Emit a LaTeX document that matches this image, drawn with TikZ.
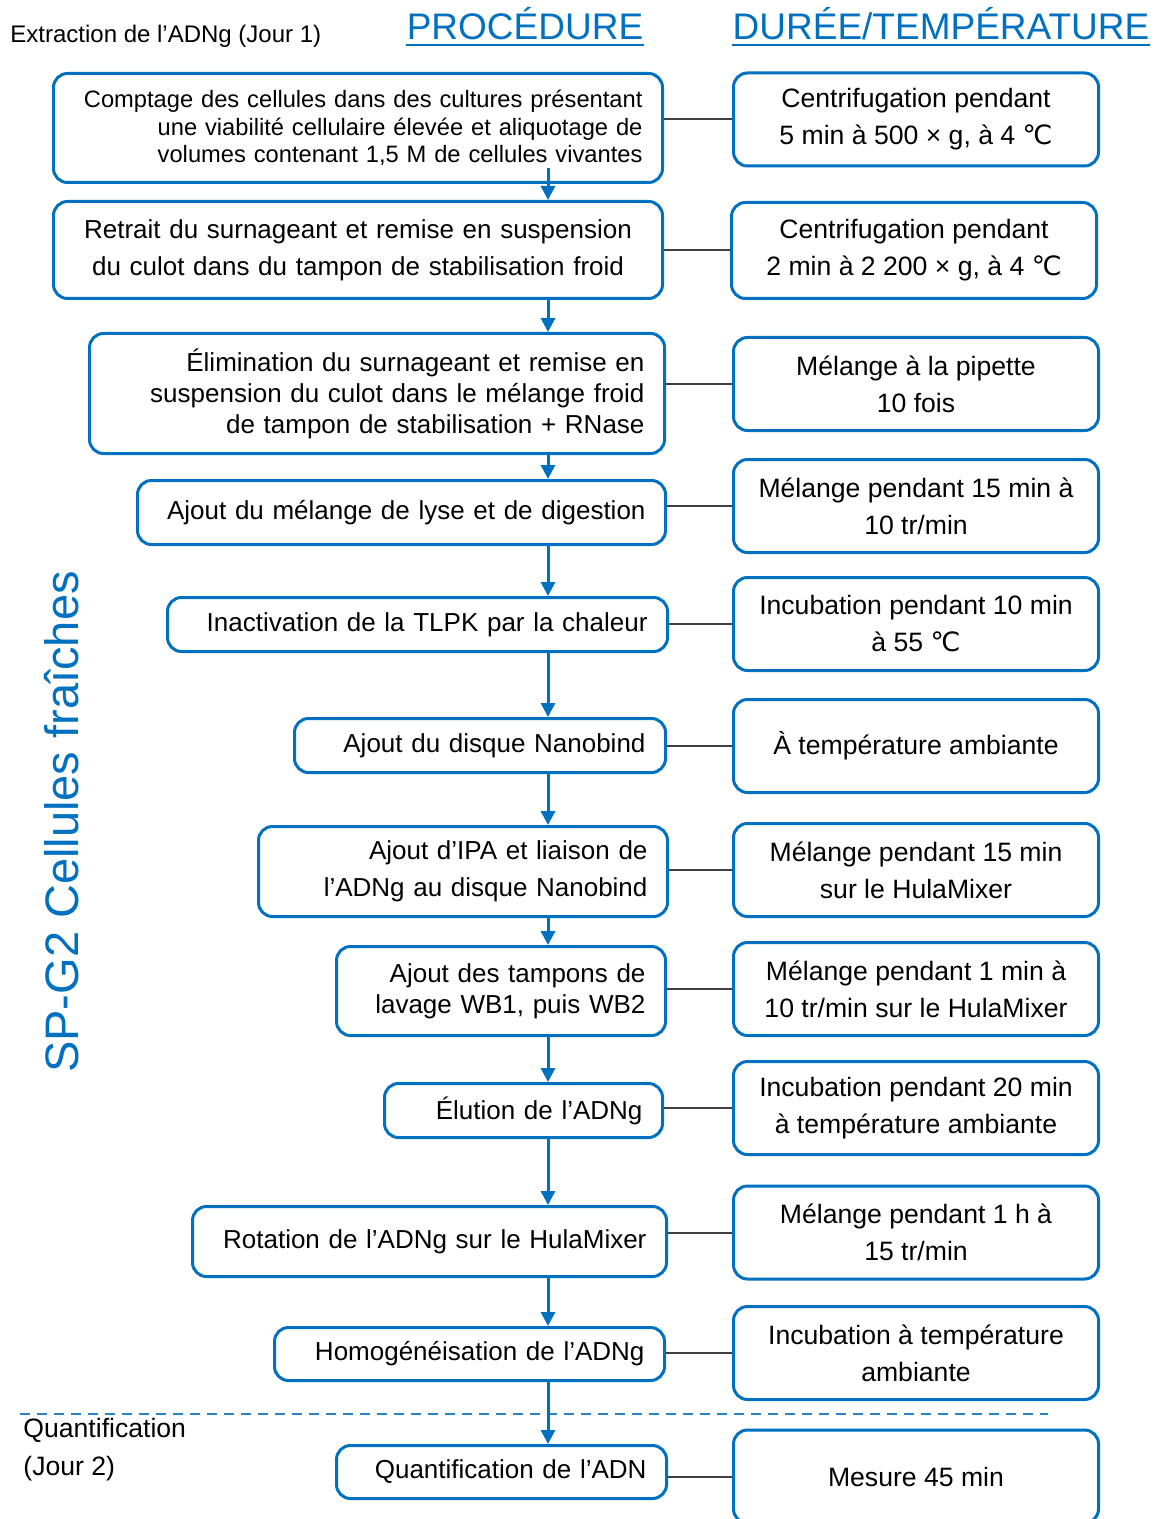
\documentclass[tikz,border=0pt]{standalone}
\usepackage{fontspec}
\setmainfont{Liberation Sans}
\newfontfamily\symfont{DejaVu Sans}
\usetikzlibrary{arrows.meta, positioning, calc}
\definecolor{procblue}{RGB}{0,112,192}
\definecolor{linkgray}{RGB}{64,64,64}
\newcommand{\degC}{{\symfont ℃}}

\begin{document}
\begin{tikzpicture}[
    x=0.5pt, y=-0.5pt,
    >={Triangle[width=7pt,length=7pt]},
    box/.style={draw=procblue, line width=1.5pt, rounded corners=7pt, inner xsep=10pt, inner ysep=3pt},
    procbox/.style={box, anchor=east, align=right, font=\fontsize{13}{18.5}\selectfont},
    timebox/.style={box, minimum width=182.5pt, minimum height=46.5pt, align=center, font=\fontsize{13.3}{18.5}\selectfont},
    heading/.style={text=procblue, inner sep=0pt, font=\fontsize{18.5}{22}\selectfont},
    flow/.style={->, line width=1.5pt, draw=procblue},
    link/.style={draw=linkgray, line width=1pt}
]
\useasboundingbox (0,0) rectangle (1155,1519);

% Headings
\node[anchor=base west, inner sep=0pt, font=\fontsize{12}{14}\selectfont] (day1) at (10,43) {Extraction de l’ADNg (Jour 1)};
\node[heading, anchor=base] (proctitle) at (525,40) {PROCÉDURE};
\node[heading, anchor=base] (timetitle) at (941,40) {DURÉE/TEMPÉRATURE};
\draw[procblue, line width=1.2pt] ([yshift=-2.5pt]proctitle.base west) -- ([yshift=-2.5pt]proctitle.base east);
\draw[procblue, line width=1.2pt] ([yshift=-2.5pt]timetitle.base west) -- ([yshift=-2.5pt]timetitle.base east);

\node[text=procblue, rotate=90, font=\fontsize{23.5}{28}\selectfont] (sample) at (62,822) {SP-G2 Cellules fraîches};

% Procedure steps (left)
\node[procbox, text width=284.5pt, minimum height=54.5pt, font=\fontsize{11.85}{13.75}\selectfont] (comptage) at (664,128) {
    Comptage des cellules dans des cultures présentant\\
    une viabilité cellulaire élevée et aliquotage de\\
    volumes contenant 1,5 M de cellules vivantes
};
\node[procbox, text width=284.5pt, minimum height=48.5pt, align=center] (retrait) at (664,250) {
    Retrait du surnageant et remise en suspension\\
    du culot dans du tampon de stabilisation froid
};
\node[procbox, text width=267.5pt, minimum height=60pt, font=\fontsize{13}{15.5}\selectfont] (elimination) at (666,393.5) {
    Élimination du surnageant et remise en\\
    suspension du culot dans le mélange froid\\
    de tampon de stabilisation + RNase
};
\node[procbox, text width=244pt, minimum height=32pt] (lyse) at (667,512.5) {Ajout du mélange de lyse et de digestion};
\node[procbox, text width=230pt, minimum height=27pt] (inactivation) at (669,624.5) {Inactivation de la TLPK par la chaleur};
\node[procbox, text width=165.5pt, minimum height=27pt] (disque) at (667,745.5) {Ajout du disque Nanobind};
\node[procbox, text width=184.5pt, minimum height=45pt] (ipa) at (669,871.5) {
    Ajout d’IPA et liaison de\\
    l’ADNg au disque Nanobind
};
\node[procbox, text width=144.5pt, minimum height=44.5pt, font=\fontsize{13}{15.5}\selectfont] (lavage) at (667,991) {
    Ajout des tampons de\\
    lavage WB1, puis WB2
};
\node[procbox, text width=119pt, minimum height=27pt] (elution) at (664,1110.5) {Élution de l’ADNg};
\node[procbox, text width=217pt, minimum height=35pt] (rotation) at (668,1241.5) {Rotation de l’ADNg sur le HulaMixer};
\node[procbox, text width=175pt, minimum height=26.5pt] (homog) at (666,1354) {Homogénéisation de l’ADNg};
\node[procbox, text width=145pt, minimum height=26.5pt] (quantif) at (668,1472) {Quantification de l’ADN};

% Duration / temperature (right)
\node[timebox] (centri1) at (916,119.5) {Centrifugation pendant\\ 5 min à 500 × g, à 4 \degC};
\node[timebox, minimum height=48pt] (centri2) at (914,250.5) {Centrifugation pendant\\ 2 min à 2 200 × g, à 4 \degC};
\node[timebox] (pipette) at (916,384) {Mélange à la pipette\\ 10 fois};
\node[timebox] (melange1) at (916,506) {Mélange pendant 15 min à\\ 10 tr/min};
\node[timebox] (incub1) at (916,624) {Incubation pendant 10 min\\ à 55 \degC};
\node[timebox] (ambiante) at (916,746) {À température ambiante};
\node[timebox] (melange2) at (916,870) {Mélange pendant 15 min\\ sur le HulaMixer};
\node[timebox] (melange3) at (916,989) {Mélange pendant 1 min à\\ 10 tr/min sur le HulaMixer};
\node[timebox] (incub2) at (916,1108) {Incubation pendant 20 min\\ à température ambiante};
\node[timebox] (melange4) at (916,1232.5) {Mélange pendant 1 h à\\ 15 tr/min};
\node[timebox] (incub3) at (916,1353) {Incubation à température\\ ambiante};
\node[timebox] (mesure) at (916,1476.5) {Mesure 45 min};

% Day separator
\coordinate (sepL) at (20,1414);
\coordinate (sepR) at (1048,1414);
\draw[procblue!85, line width=1pt, dash pattern=on 5pt off 3.5pt] (sepL) -- (sepR);
\node[anchor=west, inner sep=0pt, align=left, font=\fontsize{13.3}{19}\selectfont] (day2) at (23,1450) {Quantification\\(Jour 2)};

% Flow arrows
\coordinate (spine) at (548,0);
\draw[flow] ([yshift=8pt]comptage.south -| spine) -- (retrait.north -| spine);
\draw[flow] (retrait.south -| spine) -- (elimination.north -| spine);
\draw[flow] (elimination.south -| spine) -- (lyse.north -| spine);
\draw[flow] (lyse.south -| spine) -- (inactivation.north -| spine);
\draw[flow] (inactivation.south -| spine) -- (disque.north -| spine);
\draw[flow] (disque.south -| spine) -- (ipa.north -| spine);
\draw[flow] (ipa.south -| spine) -- (lavage.north -| spine);
\draw[flow] (lavage.south -| spine) -- (elution.north -| spine);
\draw[flow] (elution.south -| spine) -- (rotation.north -| spine);
\draw[flow] (rotation.south -| spine) -- (homog.north -| spine);
\draw[flow] (homog.south -| spine) -- (quantif.north -| spine);

% Links
\draw[link] (centri1.west) -- (centri1.west -| comptage.east);
\draw[link] (centri2.west) -- (centri2.west -| retrait.east);
\draw[link] (pipette.west) -- (pipette.west -| elimination.east);
\draw[link] (melange1.west) -- (melange1.west -| lyse.east);
\draw[link] (incub1.west) -- (incub1.west -| inactivation.east);
\draw[link] (ambiante.west) -- (ambiante.west -| disque.east);
\draw[link] (melange2.west) -- (melange2.west -| ipa.east);
\draw[link] (melange3.west) -- (melange3.west -| lavage.east);
\draw[link] (incub2.west) -- (incub2.west -| elution.east);
\draw[link] (melange4.west) -- (melange4.west -| rotation.east);
\draw[link] (incub3.west) -- (incub3.west -| homog.east);
\draw[link] (mesure.west) -- (mesure.west -| quantif.east);

\end{tikzpicture}
\end{document}
